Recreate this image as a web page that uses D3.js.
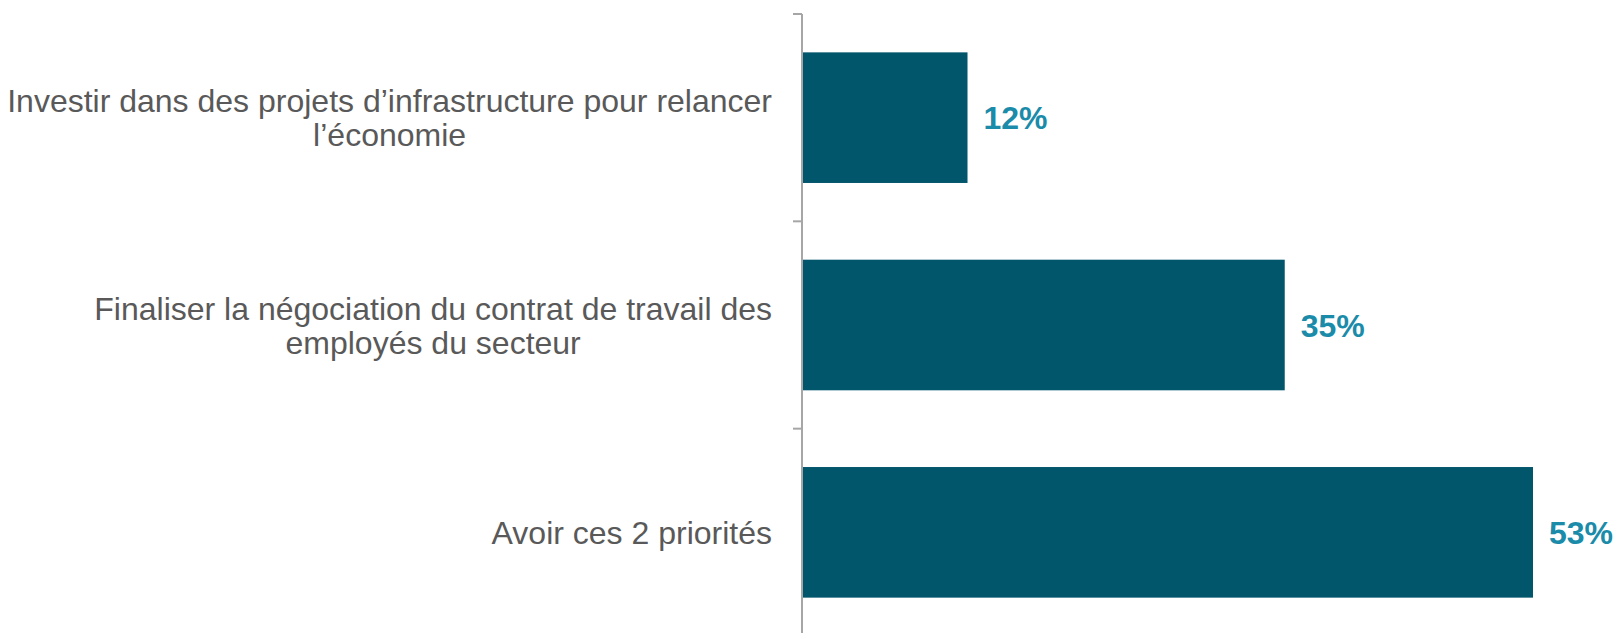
<!DOCTYPE html>
<html>
<head>
<meta charset="utf-8">
<script src="https://cdn.jsdelivr.net/npm/d3@7"></script>
<style>
  body { margin: 0; background: #fff; }
  svg { display: block; }
</style>
</head>
<body>
<div id="chart"></div>
<script>
const categories = [
    ["Investir dans des projets d\u2019infrastructure pour relancer", "l\u2019\u00e9conomie"],
    ["Finaliser la n\u00e9gociation du contrat de travail des", "employ\u00e9s du secteur"],
    ["Avoir ces 2 priorit\u00e9s"]
];
const values = [12, 35, 53];
const valueLabels = ["12%", "35%", "53%"];

const width = 1617, height = 633;
const margin = {top: 14, left: 802};

const svg = d3.select('#chart')
    .append('svg')
    .attr('width', width)
    .attr('height', height);

const idx = d3.range(values.length);

const yScale = d3.scaleBand()
    .domain(idx)
    .range([margin.top, margin.top + 622])
    .paddingInner(0.37)
    .paddingOuter(0.185);

const xScale = d3.scaleLinear()
    .domain([0, 53])
    .range([margin.left, 1533]);

// axis line with ticks between categories
const yAxis = d3.axisLeft(yScale).tickSize(0).tickFormat('');
const axisG = svg.append('g')
    .attr('transform', `translate(${margin.left},0)`)
    .call(yAxis);
axisG.select('.domain').remove();

axisG.append('line')
    .attr('y1', margin.top)
    .attr('y2', height)
    .attr('stroke', '#A6A6A6')
    .attr('stroke-width', 2);

const step = yScale.step();
axisG.selectAll('.sep')
    .data(d3.range(values.length + 1))
    .enter()
    .append('line')
    .attr('class', 'sep')
    .attr('x1', -9)
    .attr('x2', 0)
    .attr('y1', i => margin.top + i * step)
    .attr('y2', i => margin.top + i * step)
    .attr('stroke', '#A6A6A6')
    .attr('stroke-width', 2);

svg.selectAll('.bar')
    .data(idx)
    .enter()
    .append('rect')
    .attr('class', 'bar')
    .attr('x', xScale(0) + 1)
    .attr('y', i => yScale(i))
    .attr('width', i => xScale(values[i]) - xScale(0) - 1)
    .attr('height', yScale.bandwidth())
    .attr('fill', '#02566C');

svg.selectAll('.val')
    .data(idx)
    .enter()
    .append('text')
    .attr('class', 'val')
    .attr('x', i => xScale(values[i]) + 16)
    .attr('y', i => yScale(i) + yScale.bandwidth() / 2)
    .attr('dy', '0.36em')
    .attr('font-family', 'Liberation Sans, Arial, sans-serif')
    .attr('font-size', 32)
    .attr('font-weight', 'bold')
    .attr('fill', '#1A8BA9')
    .text(i => valueLabels[i]);

// category labels: lines centred in a block right-aligned to the axis
const labelRight = 772;
const lineH = 34;
idx.forEach(i => {
    const lines = categories[i];
    const g = svg.append('g')
        .attr('font-family', 'Liberation Sans, Arial, sans-serif')
        .attr('font-size', 32)
        .attr('fill', '#595959');
    const cy = yScale(i) + yScale.bandwidth() / 2;
    const texts = g.selectAll('text')
        .data(lines)
        .enter()
        .append('text')
        .attr('y', (d, j) => cy + (j - (lines.length - 1) / 2) * lineH)
        .attr('dy', '0.36em')
        .attr('text-anchor', 'middle')
        .text(d => d);
    let maxW = 0;
    texts.each(function() { maxW = Math.max(maxW, this.getComputedTextLength()); });
    texts.attr('x', labelRight - maxW / 2);
});
</script>
</body>
</html>
